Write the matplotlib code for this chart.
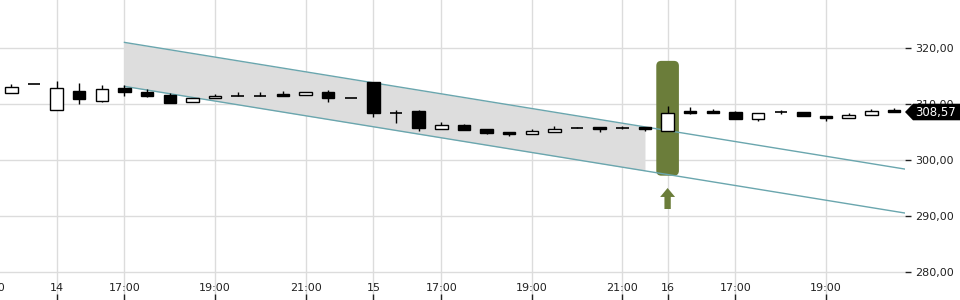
import numpy as np
import matplotlib
matplotlib.use("Agg")
import matplotlib.pyplot as plt
from matplotlib.patches import Rectangle, FancyBboxPatch, Polygon
import matplotlib.transforms as mtransforms

# 30-minute candles (index based x axis, trading hours only)
opens = [311.9, 313.5, 308.93, 312.38, 310.6, 312.9, 312.2, 311.6, 310.3, 311.0,
         311.43, 311.5, 311.84, 311.66, 312.1, 311.0, 313.87, 308.45, 308.75, 305.48,
         306.25, 305.54, 305.06, 304.64, 305.0, 305.66, 305.84, 305.77, 305.84, 305.18,
         308.8, 308.8, 308.63, 307.27, 308.63, 308.63, 307.86, 307.45, 308.04, 309.0]
highs = [313.5, 313.5, 314.1, 313.7, 313.4, 313.4, 312.6, 312.0, 311.0, 311.8,
         312.1, 312.2, 312.3, 312.1, 312.45, 311.0, 313.87, 308.93, 308.98, 306.84,
         306.43, 305.54, 305.06, 305.54, 306.07, 305.95, 305.84, 306.07, 305.84, 309.64,
         309.52, 309.1, 308.8, 308.34, 308.93, 308.63, 307.86, 308.45, 309.1, 309.3]
lows = [311.9, 313.5, 308.93, 309.95, 310.4, 311.43, 311.25, 310.23, 310.3, 311.0,
        311.43, 311.5, 311.48, 311.66, 310.3, 311.0, 307.6, 306.55, 305.18, 305.48,
        305.36, 304.6, 304.3, 304.64, 305.0, 305.66, 305.05, 305.48, 305.23, 305.18,
        308.16, 308.34, 307.32, 306.96, 308.2, 307.86, 306.96, 307.45, 308.04, 308.57]
closes = [313.09, 313.5, 312.8, 310.84, 312.6, 312.2, 311.48, 310.23, 311.0, 311.43,
          311.43, 311.5, 311.48, 312.1, 311.0, 311.0, 308.34, 308.45, 305.66, 306.25,
          305.36, 304.88, 304.64, 305.18, 305.6, 305.66, 305.54, 305.77, 305.54, 308.34,
          308.45, 308.34, 307.32, 308.34, 308.63, 307.86, 307.45, 308.04, 308.8, 308.57]

tick_idx = [-1, 2, 5, 9, 13, 16, 19, 23, 27, 29, 32, 36]
tick_labels = ["21:00", "14", "17:00", "19:00", "21:00", "15", "17:00", "19:00",
               "21:00", "16", "17:00", "19:00"]
price_ticks = [280, 290, 300, 310, 320]

# trend channel
channel_x = [5, 39.5]
channel_upper = [321.0, 298.37]
channel_lower = [313.15, 290.52]
fill_end = 28

signal_idx = 29
signal_top = 317.7
signal_bottom = 297.2
last_price = closes[-1]

W, H = 960, 300
fig = plt.figure(figsize=(9.6, 3.0), dpi=100)
ax = fig.add_axes([0, 0, 905 / W, 1])

for s in ax.spines.values():
    s.set_visible(False)
ax.set_yticks(price_ticks)
ax.set_yticklabels([f"{p:.2f}".replace(".", ",") for p in price_ticks])
ax.yaxis.tick_right()
ax.tick_params(axis="y", direction="out", length=4, width=1, pad=3,
               labelsize=8, colors="#222222")
ax.set_xticks(tick_idx)
ax.tick_params(axis="x", direction="in", length=4, width=1, colors="#222222",
               labelbottom=False)
ax.grid(True, color="#dcdcdc", lw=1, zorder=0)
ax.set_axisbelow(True)
# limits after the ticks, otherwise the tick at -1 widens the view
ax.set_xlim(-0.5, 39.49)
ax.set_ylim(275.0, 328.57)

for i, lab in zip(tick_idx, tick_labels):
    ax.text(i, 0.04, lab, transform=ax.get_xaxis_transform(), ha="center", va="center",
            fontsize=8, color="#222222", family=["Liberation Sans Narrow", "DejaVu Sans"],
            clip_on=False)

# channel fill + lines
xf = np.linspace(channel_x[0], fill_end, 50)
ax.fill_between(xf, np.interp(xf, channel_x, channel_lower), np.interp(xf, channel_x, channel_upper),
                color="#dddddd", lw=0, zorder=1)

# signal highlight
asp = 22.63 / 5.6
box = FancyBboxPatch((signal_idx - 0.5, signal_bottom), 1.0, signal_top - signal_bottom,
                     boxstyle="round,pad=0,rounding_size=0.22", mutation_aspect=asp,
                     fc="#6b7d3a", ec="none", zorder=2)
ax.add_patch(box)

ax.plot(channel_x, channel_upper, color="#6aa6ae", lw=1, zorder=3)
ax.plot(channel_x, channel_lower, color="#6aa6ae", lw=1, zorder=3)

# arrow under signal
tip = signal_bottom - 2.2
head = tip - 1.6
tail = tip - 3.75
arrow = Polygon([(signal_idx, tip), (signal_idx + 0.33, head), (signal_idx + 0.14, head),
                 (signal_idx + 0.14, tail), (signal_idx - 0.14, tail), (signal_idx - 0.14, head),
                 (signal_idx - 0.33, head)], closed=True, fc="#6b7d3a", ec="none", zorder=2)
ax.add_patch(arrow)

# candles
bw = 0.55
for i, (o, h, l, c) in enumerate(zip(opens, highs, lows, closes)):
    ax.vlines(i, l, h, color="black", lw=1, zorder=4)
    if abs(c - o) < 0.01:
        ax.hlines(o, i - bw / 2, i + bw / 2, color="black", lw=1.2, zorder=5)
    else:
        fc = "white" if c > o else "black"
        ax.add_patch(Rectangle((i - bw / 2, min(o, c)), bw, abs(c - o), fc=fc, ec="black",
                               lw=1, zorder=5))

# last price tag
tr = mtransforms.blended_transform_factory(fig.transFigure, ax.transData)
hh = 8.3 / 5.6
tag = Polygon([(905 / W, last_price), (913 / W, last_price + hh), (1.0, last_price + hh),
               (1.0, last_price - hh), (913 / W, last_price - hh)], closed=True,
              transform=tr, fc="black", ec="none", zorder=5)
fig.add_artist(tag)
fig.text(936 / W, last_price, f"{last_price:.2f}".replace(".", ","), transform=tr,
         ha="center", va="center", fontsize=8.5, color="white", zorder=6)

fig.savefig("out.png", dpi=100)
